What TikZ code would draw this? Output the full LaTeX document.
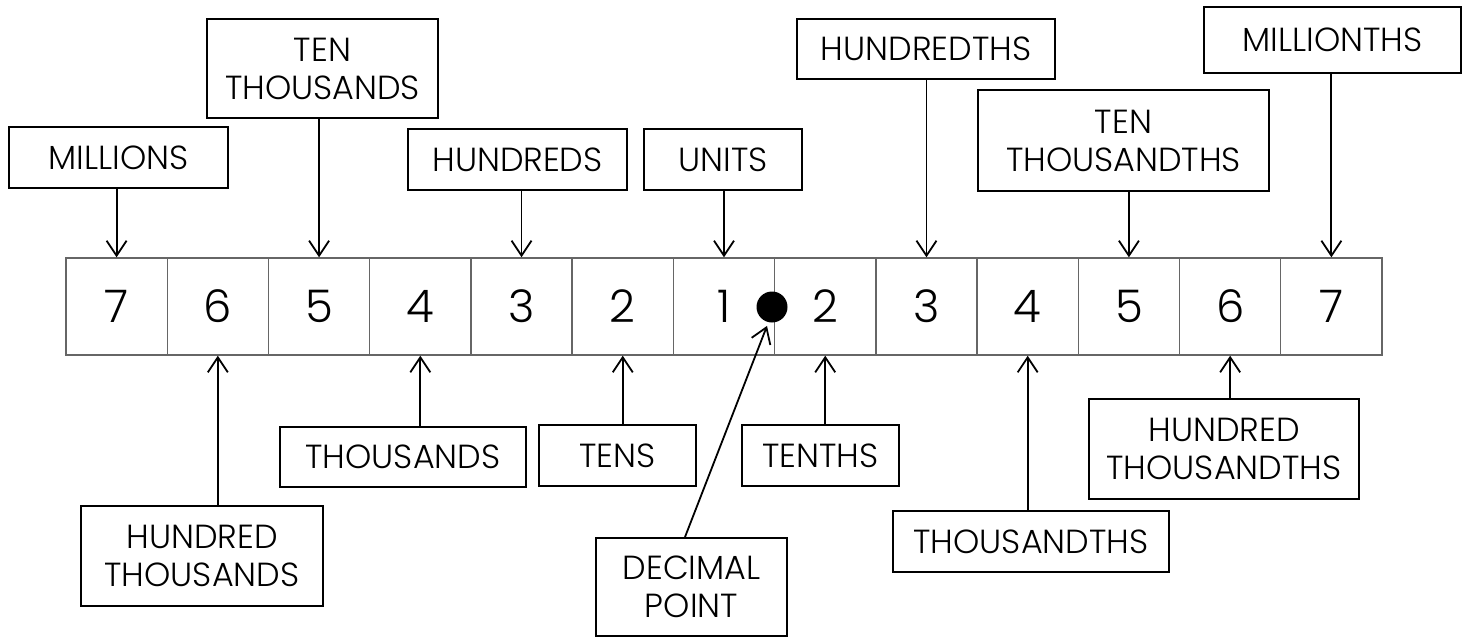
\documentclass[tikz,border=0pt]{standalone}
\usepackage{fontspec}
\setmainfont{Poppins}[UprightFont=* Light]
\usetikzlibrary{arrows.meta}
\tikzset{
  cell/.style={draw=black!60, line width=0.7pt, minimum width=50.6pt, minimum height=48.5pt, inner sep=0pt, font=\fontsize{22.5}{24}\selectfont},
  lbl/.style={draw=black, line width=1pt, inner sep=0pt, align=center, font=\fontsize{16.7}{19}\selectfont},
  arr/.style={line width=0.9pt, -{Straight Barb[length=7.5pt, width=10pt, line width=0.9pt]}},
  dotstyle/.style={circle, fill=black, minimum size=15.5pt, inner sep=0pt}
}
\begin{document}
\begin{tikzpicture}[x=0.5pt, y=-0.5pt]
\useasboundingbox (0,0) rectangle (1467,637);
% cells
\foreach \i/\d in {1/7,2/6,3/5,4/4,5/3,6/2,7/1,8/2,9/3,10/4,11/5,12/6,13/7}{
  \node[cell] (c\i) at ({66+(\i-0.5)*101.23},306.5) {\d};
}
\node[dotstyle] (dot) at (772,307) {};
% top labels
\node[lbl, minimum width=109.5pt, minimum height=30.5pt] (millions) at (118.5,157.5) {MILLIONS};
\node[lbl, minimum width=115.5pt, minimum height=49.5pt] (tenthousands) at (322.5,68.5) {TEN\\THOUSANDS};
\node[lbl, minimum width=109.5pt, minimum height=30.5pt] (hundreds) at (517.5,159.5) {HUNDREDS};
\node[lbl, minimum width=79pt, minimum height=30.5pt] (units) at (723,159.5) {UNITS};
\node[lbl, minimum width=129pt, minimum height=30pt] (hundredths) at (926,49) {HUNDREDTHS};
\node[lbl, minimum width=145.5pt, minimum height=50.5pt] (tenthousandths) at (1123.5,140.5) {TEN\\THOUSANDTHS};
\node[lbl, minimum width=128.5pt, minimum height=33pt] (millionths) at (1332.5,40) {MILLIONTHS};
% bottom labels
\node[lbl, minimum width=121pt, minimum height=50pt] (hundredthousands) at (202,556) {HUNDRED\\THOUSANDS};
\node[lbl, minimum width=123pt, minimum height=30pt] (thousands) at (403,457) {THOUSANDS};
\node[lbl, minimum width=78.5pt, minimum height=30.5pt] (tens) at (617.5,455.5) {TENS};
\node[lbl, minimum width=78.5pt, minimum height=30.5pt] (tenths) at (820.5,455.5) {TENTHS};
\node[lbl, minimum width=95.5pt, minimum height=49pt] (decimalpoint) at (691.5,587) {DECIMAL\\POINT};
\node[lbl, minimum width=138pt, minimum height=30.5pt] (thousandths) at (1031,541.5) {THOUSANDTHS};
\node[lbl, minimum width=135pt, minimum height=50pt] (hundredthousandths) at (1224,449) {HUNDRED\\THOUSANDTHS};
% arrows down
\draw[arr] (millions.south -| c1.north) -- (c1.north);
\draw[arr] (tenthousands.south -| c3.north) -- (c3.north);
\draw[arr] (hundreds.south -| c5.north) -- (c5.north);
\draw[arr] (units.south -| c7.north) -- (c7.north);
\draw[arr] (hundredths.south -| c9.north) -- (c9.north);
\draw[arr] (tenthousandths.south -| c11.north) -- (c11.north);
\draw[arr] (millionths.south -| c13.north) -- (c13.north);
% arrows up
\draw[arr] (hundredthousands.north -| c2.south) -- (c2.south);
\draw[arr] (thousands.north -| c4.south) -- (c4.south);
\draw[arr] (tens.north -| c6.south) -- (c6.south);
\draw[arr] (tenths.north -| c8.south) -- (c8.south);
\draw[arr] (thousandths.north -| c10.south) -- (c10.south);
\draw[arr] (hundredthousandths.north -| c12.south) -- (c12.south);
\draw[arr] ([xshift=-3.25pt]decimalpoint.north) -- ([shift={(-2.5pt,-1.5pt)}]dot.south);
\end{tikzpicture}
\end{document}
